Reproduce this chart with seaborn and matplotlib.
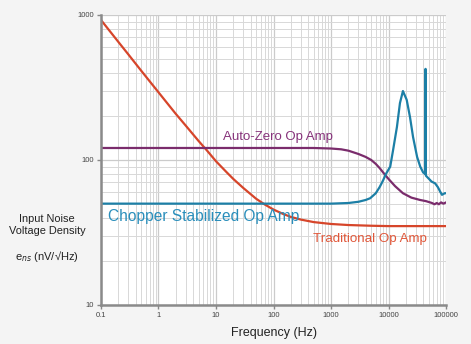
import numpy as np
import pandas as pd
import matplotlib
matplotlib.use("Agg")
import matplotlib.pyplot as plt
import seaborn as sns
from matplotlib.ticker import FixedLocator, FixedFormatter, LogLocator, NullFormatter

# ---- data ----
trad_f = [0.1, 0.2, 0.3, 0.5, 1, 2, 3, 5, 7, 10, 15, 20, 30, 50, 70, 100, 150, 200,
          300, 500, 1000, 2000, 5000, 10000, 100000]
trad_v = [924, 653, 534, 413, 293, 208, 172, 135, 116, 98, 83, 74, 64, 54, 49.4, 45.5,
          42.3, 40.5, 38.8, 37.3, 36.2, 35.6, 35.2, 35, 35]

az_f = [0.1, 500, 1000, 1500, 2000, 3000, 4000, 5000, 6000, 7000, 8700, 10000, 13000,
        17800, 25000, 35400, 45000, 57000, 63000, 69000, 75000, 82000, 90000, 100000]
az_v = [121, 121, 120, 118.5, 116, 110, 105, 100, 94, 88, 79, 74, 66,
        59, 55, 53, 52, 50.5, 49.5, 50.5, 49.5, 51, 50, 51]

ch_f = [0.1, 1000, 2000, 3000, 4000, 4800, 6000, 7000, 8000, 9000, 10700, 12000, 14000,
        15800, 17800, 20700, 23600, 26700, 31400, 35600, 40000, 43500, 44000,
        44600, 49000, 56000, 64600, 72000, 80000, 85000, 95000, 100000]
ch_v = [50, 50, 50.5, 51.5, 53, 54.5, 59, 65, 72, 80, 90, 117, 169,
        247, 299, 260, 198, 144, 105, 90, 82, 80, 425,
        78, 75, 71, 69, 65, 60, 57.5, 59, 59]

x_ticks = [0.1, 1, 10, 100, 1000, 10000, 100000]
x_labels = ["0.1", "1", "10", "100", "1000", "10000", "100000"]
y_ticks = [10, 100, 1000]
y_labels = ["10", "100", "1000"]

series_names = ["Traditional Op Amp", "Auto-Zero Op Amp", "Chopper Stabilized Op Amp"]
colors = {"Traditional Op Amp": "#d6452a",
          "Auto-Zero Op Amp": "#7a2c6c",
          "Chopper Stabilized Op Amp": "#1c7fa6"}
text_colors = {"Traditional Op Amp": "#e0573a",
               "Auto-Zero Op Amp": "#86327a",
               "Chopper Stabilized Op Amp": "#2a8ebb"}

df = pd.concat([
    pd.DataFrame({"f": trad_f, "v": trad_v, "s": series_names[0]}),
    pd.DataFrame({"f": az_f, "v": az_v, "s": series_names[1]}),
    pd.DataFrame({"f": ch_f, "v": ch_v, "s": series_names[2]}),
], ignore_index=True)

sns.set_theme(style="white")
plt.rcParams["font.family"] = ["Liberation Sans", "DejaVu Sans"]

fig = plt.figure(figsize=(4.71, 3.44), dpi=100, facecolor="#f4f4f4")
ax = fig.add_axes([0.2144, 0.1134, 0.7326, 0.843])
ax.set_facecolor("white")

ax.set_xscale("log")
ax.set_yscale("log")
ax.set_xlim(0.1, 100000)
ax.set_ylim(10, 1000)

# grid
ax.xaxis.set_minor_locator(LogLocator(base=10, subs=np.arange(2, 10)))
ax.yaxis.set_minor_locator(LogLocator(base=10, subs=np.arange(2, 10)))
ax.xaxis.set_minor_formatter(NullFormatter())
ax.yaxis.set_minor_formatter(NullFormatter())
ax.grid(True, which="major", color="#cbcbcb", linewidth=0.9)
ax.grid(True, which="minor", color="#d8d8d8", linewidth=0.7)
ax.set_axisbelow(True)

sns.lineplot(data=df, x="f", y="v", hue="s", palette=colors, ax=ax,
             legend=False, linewidth=1.6, sort=False, estimator=None)

ax.xaxis.set_major_locator(FixedLocator(x_ticks))
ax.xaxis.set_major_formatter(FixedFormatter(x_labels))
ax.yaxis.set_major_locator(FixedLocator(y_ticks))
ax.yaxis.set_major_formatter(FixedFormatter(y_labels))
ax.tick_params(axis="both", which="major", labelsize=5.5, labelcolor="#444444",
               length=3, width=1, color="#888888", direction="out", pad=2,
               left=True, bottom=True)
ax.tick_params(axis="both", which="minor", length=0)

for side in ["top", "right"]:
    ax.spines[side].set_visible(False)
for side in ["left", "bottom"]:
    ax.spines[side].set_color("#8a8a8a")
    ax.spines[side].set_linewidth(1.8)

ax.set_xlabel("Frequency (Hz)", fontsize=9, color="#222222", labelpad=6)
ax.set_ylabel("")

# series annotations
ax.text(0.132, 41, "Chopper Stabilized Op Amp", fontsize=11.2,
        color=text_colors["Chopper Stabilized Op Amp"], va="center", ha="left")
ax.text(13, 144, "Auto-Zero Op Amp", fontsize=9.5,
        color=text_colors["Auto-Zero Op Amp"], va="center", ha="left")
ax.text(490, 28.5, "Traditional Op Amp", fontsize=9.6,
        color=text_colors["Traditional Op Amp"], va="center", ha="left")

# y label block
fig.text(47 / 471, 1 - 225 / 344, "Input Noise\nVoltage Density", fontsize=7.9,
         color="#222222", ha="center", va="center", linespacing=1.35)
fig.text(47 / 471, 1 - 256 / 344, r"e$_{ns}$ (nV/√Hz)", fontsize=8,
         color="#222222", ha="center", va="center")

fig.savefig("out.png", dpi=100, facecolor=fig.get_facecolor())
